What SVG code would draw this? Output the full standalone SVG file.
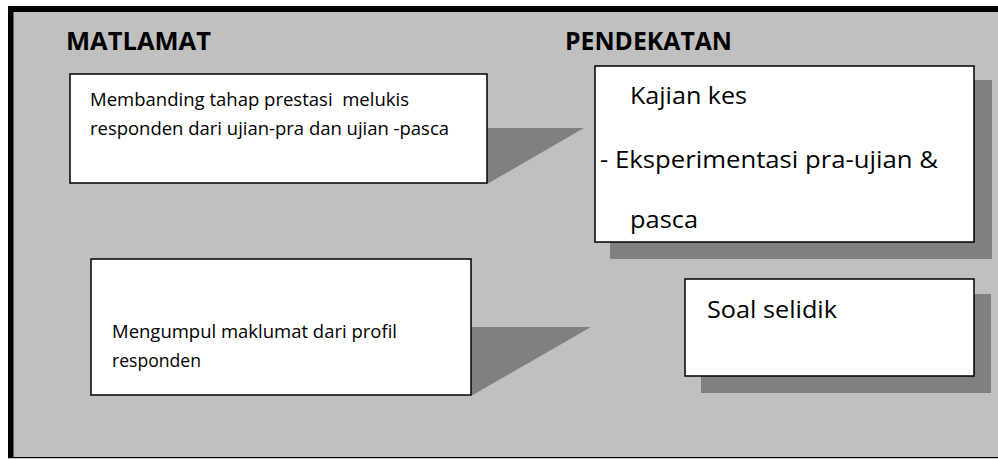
<svg xmlns="http://www.w3.org/2000/svg" width="998" height="459" viewBox="0 0 998 459">
<style>
.box{fill:#fff;stroke:#000;stroke-width:1.5}
.sh{fill:#808080}
.t{font-family:"Open Sans","Liberation Sans",sans-serif;fill:#000;white-space:pre}
.h{font-family:"Open Sans","Liberation Sans",sans-serif;font-weight:bold;font-size:25px;fill:#000}
</style>
<rect x="0" y="0" width="998" height="459" fill="#fff"/>
<rect x="8" y="6" width="990" height="452" fill="#c0c0c0"/>
<rect x="8" y="6" width="990" height="6" fill="#000"/>
<rect x="8" y="6" width="5.5" height="452" fill="#000"/>
<rect x="8" y="457" width="990" height="1.2" fill="#000"/>
<text class="h" x="66" y="50" textLength="145" lengthAdjust="spacingAndGlyphs">MATLAMAT</text>
<text class="h" x="565" y="50" textLength="167" lengthAdjust="spacingAndGlyphs">PENDEKATAN</text>
<g id="connectors">
<polygon class="sh" points="487,128 584,128 487,184"/>
<polygon class="sh" points="471,327 591,327 471,396"/>
</g>
<g id="node-membanding">
<rect class="box" x="70" y="74" width="417" height="109"/>
<text class="t" font-size="17.5" x="90" y="106" textLength="319" lengthAdjust="spacingAndGlyphs">Membanding tahap prestasi  melukis</text>
<text class="t" font-size="17.5" x="90" y="135" textLength="359" lengthAdjust="spacingAndGlyphs">responden dari ujian-pra dan ujian -pasca</text>
</g>
<g id="node-kajian">
<rect class="sh" x="610" y="80" width="382" height="179"/>
<rect class="box" x="595" y="66" width="379" height="176"/>
<text class="t" font-size="23.5" x="630" y="104" textLength="117" lengthAdjust="spacingAndGlyphs">Kajian kes</text>
<text class="t" font-size="23.5" x="600" y="168" textLength="338" lengthAdjust="spacingAndGlyphs">- Eksperimentasi pra-ujian &amp;</text>
<text class="t" font-size="23.5" x="630" y="228" textLength="68" lengthAdjust="spacingAndGlyphs">pasca</text>
</g>
<g id="node-mengumpul">
<rect class="box" x="91" y="259" width="380" height="136"/>
<text class="t" font-size="18.5" x="112" y="338" textLength="285" lengthAdjust="spacingAndGlyphs">Mengumpul maklumat dari profil</text>
<text class="t" font-size="18.5" x="112" y="367" textLength="89" lengthAdjust="spacingAndGlyphs">responden</text>
</g>
<g id="node-soal">
<rect class="sh" x="701" y="294" width="290" height="99"/>
<rect class="box" x="685" y="279" width="289" height="97"/>
<text class="t" font-size="23.5" x="707" y="318" textLength="130" lengthAdjust="spacingAndGlyphs">Soal selidik</text>
</g>
</svg>
